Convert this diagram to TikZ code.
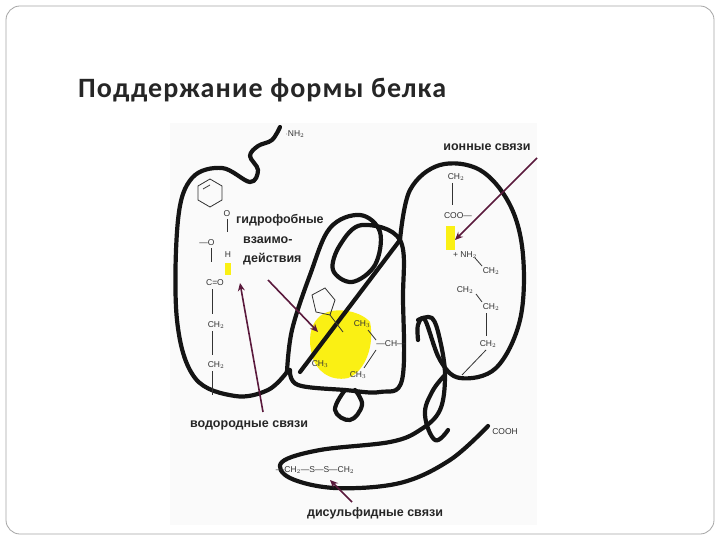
\documentclass[tikz,border=0pt]{standalone}
\usepackage{fontspec}
\usetikzlibrary{arrows.meta}
\setmainfont{Liberation Sans}
\newfontfamily\titlefont[LetterSpace=4]{Carlito}
\begin{document}
\begin{tikzpicture}[x=1pt,y=-1pt,
  chain/.style={line width=4.2pt,line cap=round,line join=round,black!92},
  bond/.style={line width=0.8pt,black!80},
  lbl/.style={font=\bfseries\fontsize{12.5}{13}\selectfont,text=black!85,inner sep=0pt},
  chem/.style={font=\fontsize{8.5}{9}\selectfont,text=black!80,inner sep=0pt},
  arr/.style={line width=1.6pt,draw={rgb,255:red,90;green,25;blue,60},-{Stealth[length=8pt,width=7pt]}},
  hl/.style={fill={rgb,255:red,250;green,240;blue,20},draw=none}]
\useasboundingbox (0,0) rectangle (720,540);
\fill[white] (0,0) rectangle (720,540);
\draw[black!35,line width=0.8pt,rounded corners=14pt] (6,6) rectangle (714,534);
\node[font=\titlefont\bfseries\fontsize{28}{30}\selectfont,anchor=west,text=black!85,inner sep=0pt] (title) at (78,90) {Поддержание формы белка};
\fill[black!2] (170,123) rectangle (537,525);
% yellow highlights
\fill[hl] (446,226) rectangle (455,250);
\fill[hl] (225,263) rectangle (231,275);
\fill[hl] (318,318) .. controls (330,305) and (360,310) .. (370,322) .. controls (375,345) and (365,372) .. (348,378) .. controls (330,382) and (315,370) .. (312,355) .. controls (308,340) and (310,326) .. (318,318) -- cycle;
% chain
\draw[chain] plot[smooth,tension=0.6] coordinates {(280,127) (272,140) (258,146) (250,156) (258,170) (250,182) (222,168) (192,178) (178,220) (177,320) (195,378) (235,396) (268,390) (287,372)};
\draw[chain] plot[smooth,tension=0.6] coordinates {(287,372) (292,330) (310,275) (330,228) (360,215) (380,232) (375,265) (352,282) (333,270) (340,245) (362,225) (400,240) (403,300) (402,380) (380,392) (345,390) (298,385) (290,370)};
\draw[chain] (300,372) -- (400,240);
\draw[chain] plot[smooth,tension=0.6] coordinates {(400,240) (410,190) (440,165) (480,170) (510,205) (523,255) (520,320) (496,368) (460,378) (440,360) (425,320) (418,325) (418,340)};
\draw[chain] plot[smooth,tension=0.7] coordinates {(345,390) (335,410) (350,420) (362,405) (355,390)};
\draw[chain] plot[smooth,tension=0.6] coordinates {(418,320) (432,318) (440,340) (445,375) (440,410) (420,430) (390,442) (320,450) (282,462) (290,478) (335,488) (400,483) (450,460) (488,426)};
\draw[chain] plot[smooth,tension=0.7] coordinates {(445,375) (432,392) (425,415) (435,440) (448,430)};
% benzene ring
\draw[bond] (210,179) -- (222,186) -- (222,200) -- (210,207) -- (198,200) -- (198,186) -- cycle;
\draw[bond] (203,189) -- (210,185);
% pentagon
\draw[bond] (312,295) -- (325,288) -- (335,300) -- (330,315) -- (316,312) -- cycle;
\draw[bond] (330,315) -- (343,332);
% left chemistry
\node[chem] (oa) at (227,214) {O};
\draw[bond] (227,219) -- (227,232);
\node[chem] (h) at (228,255) {H};
\node[chem] (o1) at (207,243) {—O};
\draw[bond] (211,248) -- (211,262);
\node[chem] (co) at (215,283) {C=O};
\draw[bond] (212,289) -- (212,314);
\node[chem] (ch2a) at (216,325) {CH$_2$};
\draw[bond] (212,331) -- (212,355);
\node[chem] (ch2b) at (216,365) {CH$_2$};
\draw[bond] (212,371) -- (212,395);
% right chemistry
\node[chem] (r1) at (456,177) {CH$_2$};
\draw[bond] (452,183) -- (452,205);
\node[chem] (coo) at (458,216) {COO—};
\node[chem] (nh) at (465,255) {+ NH$_2$};
\node[chem] (r2) at (491,271) {CH$_2$};
\node[chem] (r3) at (465,290) {CH$_2$};
\node[chem] (r4) at (491,307) {CH$_2$};
\node[chem] (r5) at (488,344) {CH$_2$};
\draw[bond] (475,258) -- (482,266);
\draw[bond] (476,294) -- (482,302);
\draw[bond] (486,313) -- (486,336);
\draw[bond] (486,350) -- (462,375);
% middle chemistry
\node[chem] (m1) at (362,324) {CH$_3$};
\node[chem] (m2) at (391,344) {—CH—};
\node[chem] (m3) at (320,364) {CH$_3$};
\node[chem] (m4) at (358,375) {CH$_3$};
\draw[bond] (368,330) -- (376,340);
\draw[bond] (376,350) -- (364,368);
% top / bottom labels
\node[chem] (nh2) at (295,134) {$\cdot$NH$_2$};
\node[chem] (cooh) at (505,432) {COOH};
\node[chem] (ss) at (315,470) {—CH$_2$—S—S—CH$_2$};
% labels
\node[lbl] (ion) at (487,147) {ионные связи};
\node[lbl,anchor=west] (hyd) at (236,220) {гидрофобные};
\node[lbl,anchor=west] (vz) at (243,240) {взаимо-};
\node[lbl,anchor=west] (de) at (243,259) {действия};
\node[lbl] (hb) at (249,425) {водородные связи};
\node[lbl] (ds) at (375,513) {дисульфидные связи};
% arrows
\coordinate (t1) at (455,240);
\coordinate (t2) at (318,332);
\coordinate (t3) at (240,283);
\coordinate (t4) at (330,480);
\draw[arr] (537,158) -- (t1);
\draw[arr] (268,280) -- (t2);
\draw[arr] (263,412) -- (t3);
\draw[arr] (352,502) -- (t4);
\end{tikzpicture}
\end{document}
